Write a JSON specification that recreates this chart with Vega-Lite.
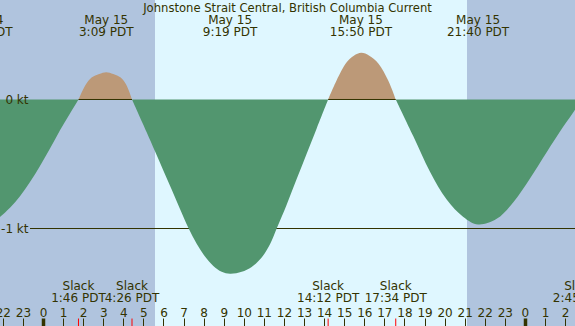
{
  "$schema": "https://vega.github.io/schema/vega-lite/v6.json",
  "width": 575,
  "height": 326,
  "autosize": "none",
  "padding": 0,
  "background": "#b0c4de",
  "config": {
    "view": {"stroke": null},
    "font": "DejaVu Sans",
    "axis": {"labelOverlap": false, "labelFlush": false, "labelBound": false},
    "text": {"font": "DejaVu Sans", "fontSize": 12, "color": "#333300"}
  },
  "title": {
    "text": "Johnstone Strait Central, British Columbia Current",
    "orient": "top",
    "frame": "group",
    "anchor": "middle",
    "offset": -23.5,
    "baseline": "alphabetic",
    "font": "DejaVu Sans",
    "fontSize": 11.6,
    "fontWeight": "normal",
    "color": "#333300"
  },
  "resolve": {"scale": {"color": "independent"}},
  "datasets": {
    "light": [
      {"h": -2.141, "h2": 5.578, "period": "night"},
      {"h": 5.578, "h2": 21.116, "period": "day"},
      {"h": 21.116, "h2": 26.494, "period": "night"}
    ],
    "current": [
      {"h": -2.141, "v": -0.912, "seg": 1, "type": "ebb"},
      {"h": -1.643, "v": -0.840, "seg": 1, "type": "ebb"},
      {"h": -1.145, "v": -0.750, "seg": 1, "type": "ebb"},
      {"h": -0.647, "v": -0.640, "seg": 1, "type": "ebb"},
      {"h": -0.149, "v": -0.515, "seg": 1, "type": "ebb"},
      {"h": 0.349, "v": -0.380, "seg": 1, "type": "ebb"},
      {"h": 0.847, "v": -0.238, "seg": 1, "type": "ebb"},
      {"h": 1.345, "v": -0.108, "seg": 1, "type": "ebb"},
      {"h": 1.767, "v": 0, "seg": 1, "type": "ebb"},
      {"h": 1.767, "v": 0, "seg": 2, "type": "flood"},
      {"h": 2.141, "v": 0.118, "seg": 2, "type": "flood"},
      {"h": 2.42, "v": 0.170, "seg": 2, "type": "flood"},
      {"h": 2.8, "v": 0.198, "seg": 2, "type": "flood"},
      {"h": 3.15, "v": 0.212, "seg": 2, "type": "flood"},
      {"h": 3.5, "v": 0.198, "seg": 2, "type": "flood"},
      {"h": 3.87, "v": 0.170, "seg": 2, "type": "flood"},
      {"h": 4.133, "v": 0.118, "seg": 2, "type": "flood"},
      {"h": 4.433, "v": 0, "seg": 2, "type": "flood"},
      {"h": 4.433, "v": 0, "seg": 3, "type": "ebb"},
      {"h": 5.163, "v": -0.253, "seg": 3, "type": "ebb"},
      {"h": 5.578, "v": -0.401, "seg": 3, "type": "ebb"},
      {"h": 5.993, "v": -0.550, "seg": 3, "type": "ebb"},
      {"h": 6.408, "v": -0.698, "seg": 3, "type": "ebb"},
      {"h": 6.823, "v": -0.848, "seg": 3, "type": "ebb"},
      {"h": 7.238, "v": -0.995, "seg": 3, "type": "ebb"},
      {"h": 7.653, "v": -1.119, "seg": 3, "type": "ebb"},
      {"h": 8.068, "v": -1.218, "seg": 3, "type": "ebb"},
      {"h": 8.483, "v": -1.290, "seg": 3, "type": "ebb"},
      {"h": 8.898, "v": -1.335, "seg": 3, "type": "ebb"},
      {"h": 9.317, "v": -1.351, "seg": 3, "type": "ebb"},
      {"h": 9.894, "v": -1.336, "seg": 3, "type": "ebb"},
      {"h": 10.392, "v": -1.298, "seg": 3, "type": "ebb"},
      {"h": 10.89, "v": -1.225, "seg": 3, "type": "ebb"},
      {"h": 11.305, "v": -1.122, "seg": 3, "type": "ebb"},
      {"h": 11.637, "v": -1.0, "seg": 3, "type": "ebb"},
      {"h": 12.135, "v": -0.815, "seg": 3, "type": "ebb"},
      {"h": 12.633, "v": -0.617, "seg": 3, "type": "ebb"},
      {"h": 13.131, "v": -0.420, "seg": 3, "type": "ebb"},
      {"h": 13.629, "v": -0.225, "seg": 3, "type": "ebb"},
      {"h": 14.2, "v": 0, "seg": 3, "type": "ebb"},
      {"h": 14.2, "v": 0, "seg": 4, "type": "flood"},
      {"h": 14.625, "v": 0.150, "seg": 4, "type": "flood"},
      {"h": 15.123, "v": 0.289, "seg": 4, "type": "flood"},
      {"h": 15.48, "v": 0.340, "seg": 4, "type": "flood"},
      {"h": 15.85, "v": 0.362, "seg": 4, "type": "flood"},
      {"h": 16.25, "v": 0.340, "seg": 4, "type": "flood"},
      {"h": 16.7, "v": 0.280, "seg": 4, "type": "flood"},
      {"h": 17.198, "v": 0.145, "seg": 4, "type": "flood"},
      {"h": 17.567, "v": 0, "seg": 4, "type": "flood"},
      {"h": 17.567, "v": 0, "seg": 5, "type": "ebb"},
      {"h": 18.443, "v": -0.285, "seg": 5, "type": "ebb"},
      {"h": 19.273, "v": -0.560, "seg": 5, "type": "ebb"},
      {"h": 20.103, "v": -0.775, "seg": 5, "type": "ebb"},
      {"h": 20.933, "v": -0.910, "seg": 5, "type": "ebb"},
      {"h": 21.667, "v": -0.969, "seg": 5, "type": "ebb"},
      {"h": 22.593, "v": -0.925, "seg": 5, "type": "ebb"},
      {"h": 23.423, "v": -0.796, "seg": 5, "type": "ebb"},
      {"h": 24.253, "v": -0.612, "seg": 5, "type": "ebb"},
      {"h": 25.083, "v": -0.408, "seg": 5, "type": "ebb"},
      {"h": 25.913, "v": -0.210, "seg": 5, "type": "ebb"},
      {"h": 26.494, "v": -0.080, "seg": 5, "type": "ebb"},
      {"h": 26.75, "v": 0, "seg": 5, "type": "ebb"}
    ],
    "flood": [
      {"h": 1.767, "h2": 4.433, "v": 0},
      {"h": 14.2, "h2": 17.567, "v": 0}
    ],
    "slack": [
      {"h": 1.767, "label": "Slack\n1:46 PDT"},
      {"h": 4.433, "label": "Slack\n4:26 PDT"},
      {"h": 14.2, "label": "Slack\n14:12 PDT"},
      {"h": 17.567, "label": "Slack\n17:34 PDT"},
      {"h": 26.75, "label": "Slack\n2:45 PDT"}
    ],
    "extremes": [
      {"h": -3.06, "label": "May 14\n20:56 PDT"},
      {"h": 3.15, "label": "May 15\n3:09 PDT"},
      {"h": 9.317, "label": "May 15\n9:19 PDT"},
      {"h": 15.833, "label": "May 15\n15:50 PDT"},
      {"h": 21.667, "label": "May 15\n21:40 PDT"}
    ],
    "level": [
      {"h": -0.647, "h2": 26.494, "v": -1}
    ]
  },
  "encoding": {
    "x": {
      "field": "h", "type": "quantitative",
      "scale": {"domain": [-2.141, 26.494], "nice": false, "zero": false},
      "axis": {
        "orient": "top",
        "offset": -326,
        "title": null,
        "values": [-2, -1, 0, 1, 2, 3, 4, 5, 6, 7, 8, 9, 10, 11, 12, 13, 14, 15, 16, 17, 18, 19, 20, 21, 22, 23, 24, 25, 26],
        "labelExpr": "(((datum.value % 24) + 24) % 24) + ''",
        "domain": false,
        "grid": false,
        "tickSize": 8,
        "tickColor": "#333300",
        "tickWidth": {"condition": {"test": "datum.value % 24 == 0", "value": 3.5}, "value": 1},
        "labelPadding": 2,
        "labelBaseline": "alphabetic",
        "labelFont": "DejaVu Sans",
        "labelFontSize": 12,
        "labelColor": "#333300",
        "labelOverlap": false,
        "labelFlush": false,
        "labelBound": false,
        "zindex": 1
      }
    }
  },
  "layer": [
    {
      "data": {"name": "light"},
      "mark": {"type": "rect"},
      "encoding": {
        "x2": {"field": "h2"},
        "color": {
          "field": "period", "type": "nominal",
          "scale": {"domain": ["night", "day"], "range": ["#b0c4de", "#dff7ff"]},
          "legend": null
        }
      }
    },
    {
      "data": {"name": "level"},
      "mark": {"type": "rule", "color": "#333300", "strokeWidth": 1},
      "encoding": {
        "x2": {"field": "h2"},
        "y": {
          "field": "v", "type": "quantitative",
          "scale": {"domain": [-1.7558, 0.7713], "nice": false, "zero": false},
          "axis": {
            "orient": "left",
            "offset": -28,
            "title": null,
            "values": [0, -1],
            "labelExpr": "datum.value + ' kt'",
            "domain": false,
            "grid": false,
            "ticks": false,
            "tickSize": 0,
            "labelPadding": 0,
            "labelAlign": "right",
            "labelBaseline": "middle",
            "labelFont": "DejaVu Sans",
            "labelFontSize": 12,
            "labelColor": "#333300",
            "labelFlush": false,
            "labelBound": false,
            "labelOverlap": false,
            "zindex": 1
          }
        }
      }
    },
    {
      "data": {"name": "current"},
      "mark": {"type": "area", "interpolate": "catmull-rom", "orient": "vertical", "clip": true},
      "encoding": {
        "y": {"field": "v", "type": "quantitative", "stack": null},
        "y2": {"datum": 0},
        "color": {
          "field": "type", "type": "nominal",
          "scale": {"domain": ["ebb", "flood"], "range": ["#52966f", "#bc9978"]},
          "legend": null
        },
        "detail": {"field": "seg"}
      }
    },
    {
      "data": {"name": "flood"},
      "mark": {"type": "rule", "color": "#333300", "strokeWidth": 1},
      "encoding": {
        "x2": {"field": "h2"},
        "y": {"field": "v", "type": "quantitative"}
      }
    },
    {
      "data": {"name": "slack"},
      "mark": {"type": "rule", "color": "#ff0000", "strokeWidth": 1},
      "encoding": {
        "y": {"datum": -1.698},
        "y2": {"datum": -1.85}
      }
    },
    {
      "data": {"name": "slack"},
      "mark": {"type": "text", "align": "center", "baseline": "alphabetic", "lineBreak": "\n", "lineHeight": 12, "fontSize": 12, "color": "#333300"},
      "encoding": {
        "y": {"datum": -1.4806},
        "text": {"field": "label"}
      }
    },
    {
      "data": {"name": "extremes"},
      "mark": {"type": "text", "align": "center", "baseline": "alphabetic", "lineBreak": "\n", "lineHeight": 12, "fontSize": 12, "color": "#333300"},
      "encoding": {
        "y": {"datum": 0.5814},
        "text": {"field": "label"}
      }
    }
  ]
}
